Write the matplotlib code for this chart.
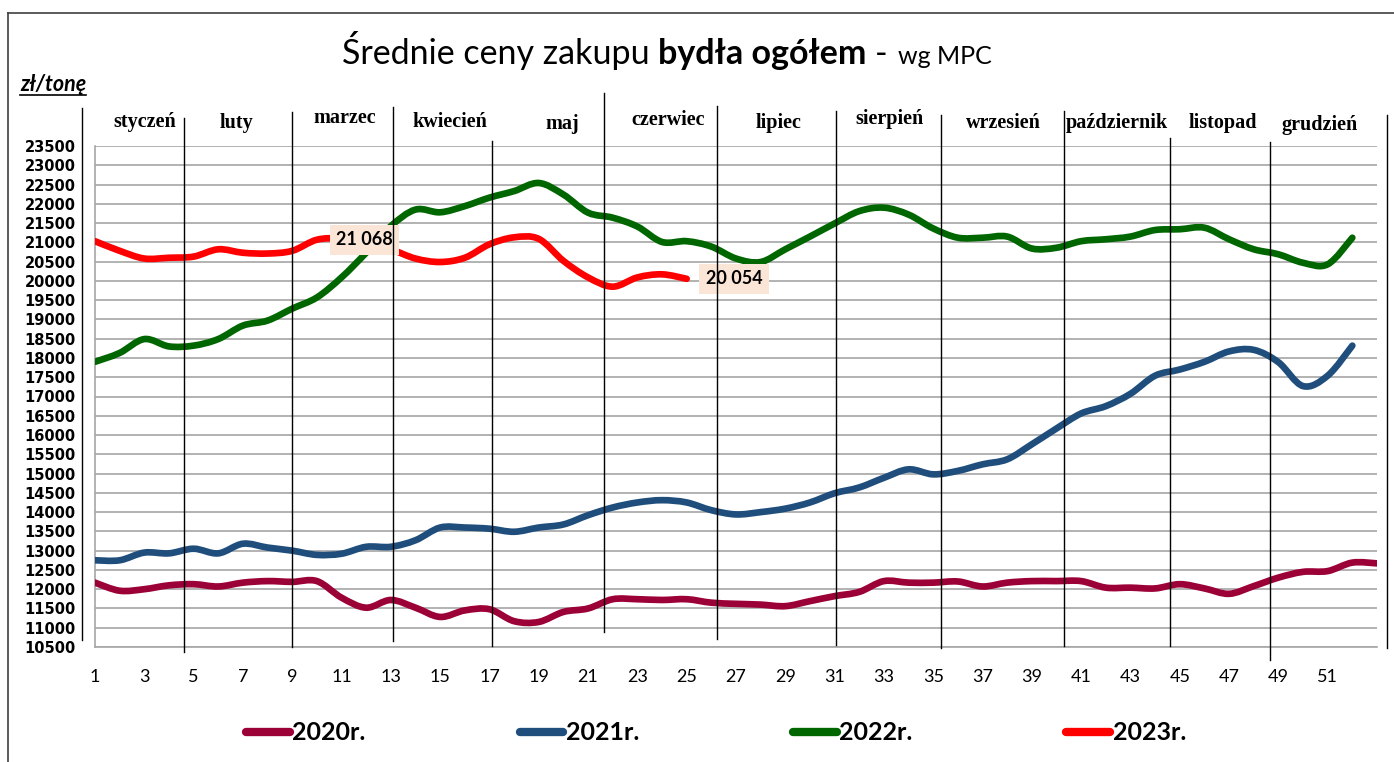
import matplotlib
matplotlib.use('Agg')
import matplotlib.pyplot as plt
from matplotlib.path import Path
from matplotlib.patches import PathPatch
from matplotlib.lines import Line2D
import numpy as np

# weekly prices, zl/tonne
prices_2020 = [12170, 11960, 12000, 12100, 12130, 12070, 12170, 12210, 12190, 12210,
               11780, 11520, 11720, 11520, 11280, 11450, 11480, 11170, 11150, 11410,
               11500, 11740, 11740, 11720, 11740, 11650, 11620, 11600, 11560, 11690,
               11820, 11930, 12210, 12170, 12170, 12200, 12070, 12170, 12210, 12210,
               12210, 12040, 12040, 12020, 12130, 12020, 11880, 12080, 12300, 12450,
               12470, 12690, 12670]
prices_2021 = [12750, 12750, 12950, 12930, 13050, 12930, 13180, 13080, 13000, 12890,
               12920, 13100, 13100, 13270, 13600, 13600, 13570, 13490, 13600, 13680,
               13920, 14120, 14250, 14310, 14250, 14050, 13940, 14000, 14090, 14250,
               14490, 14640, 14890, 15110, 14980, 15070, 15240, 15370, 15760, 16170,
               16560, 16750, 17070, 17540, 17700, 17900, 18170, 18210, 17890, 17270,
               17540, 18320]
prices_2022 = [17900, 18130, 18490, 18300, 18320, 18490, 18840, 18970, 19280, 19570,
               20090, 20730, 21420, 21850, 21780, 21940, 22160, 22330, 22540, 22240,
               21770, 21640, 21410, 21010, 21030, 20890, 20580, 20490, 20820, 21150,
               21490, 21810, 21900, 21720, 21360, 21120, 21120, 21150, 20840, 20860,
               21030, 21080, 21150, 21320, 21340, 21380, 21080, 20820, 20690, 20470,
               20430, 21120]
prices_2023 = [21030, 20780, 20580, 20600, 20630, 20820, 20730, 20710, 20780, 21068,
               21100, 21000, 20820, 20580, 20490, 20600, 20950, 21130, 21090, 20520,
               20090, 19850, 20090, 20170, 20054]

series = [prices_2020, prices_2021, prices_2022, prices_2023]
series_labels = ['2020r.', '2021r.', '2022r.', '2023r.']
colors = ['#9B0036', '#1F4E7D', '#006600', '#FF0000']

months = ['styczeń', 'luty', 'marzec', 'kwiecień', 'maj', 'czerwiec', 'lipiec',
          'sierpień', 'wrzesień', 'październik', 'listopad', 'grudzień']
x_ticks = list(range(1, 52, 2))
y_ticks = list(range(10500, 24000, 500))
labelled_2023_weeks = [10, 25]

W, H = 1394, 762


def fx(x):
    return x / W


def fy(y):
    return 1 - y / H


def smooth_path(xs, ys):
    # catmull-rom through the points, like Excel's smoothed line
    pts = np.column_stack([xs, ys]).astype(float)
    n = len(pts)
    verts = [pts[0]]
    codes = [Path.MOVETO]
    for i in range(n - 1):
        p0 = pts[max(i - 1, 0)]
        p1 = pts[i]
        p2 = pts[i + 1]
        p3 = pts[min(i + 2, n - 1)]
        verts += [p1 + (p2 - p0) / 6, p2 - (p3 - p1) / 6, p2]
        codes += [Path.CURVE4] * 3
    return Path(verts, codes)


fig = plt.figure(figsize=(W / 100, H / 100), dpi=100)
fig.patch.set_facecolor('white')

ax = fig.add_axes([fx(95), fy(647), (1377 - 95) / W, (647 - 146) / H])
ax.set_xlim(1, 53)
ax.set_ylim(10500, 23500)
ax.set_xticks(x_ticks)
ax.set_xticklabels([str(t) for t in x_ticks], fontfamily='Lato', fontsize=13)
ax.set_yticks(y_ticks)
ax.set_yticklabels([str(t) for t in y_ticks], fontfamily='DejaVu Sans',
                   fontweight='bold', fontsize=10.5)
ax.tick_params(axis='both', length=0)
ax.tick_params(axis='y', pad=14)
ax.tick_params(axis='x', pad=16)
ax.grid(axis='y', color='#A6A6A6', lw=1.2)
ax.set_axisbelow(True)
for s in ['top', 'right']:
    ax.spines[s].set_visible(False)
for s in ['left', 'bottom']:
    ax.spines[s].set_color('#A6A6A6')
    ax.spines[s].set_linewidth(1.2)

for i, (vals, col) in enumerate(zip(series, colors)):
    weeks = np.arange(1, len(vals) + 1)
    ax.add_patch(PathPatch(smooth_path(weeks, vals), facecolor='none', edgecolor=col,
                           lw=4.8, capstyle='round', joinstyle='round', zorder=3 + i))

for wk in labelled_2023_weeks:
    v = prices_2023[wk - 1]
    ax.annotate(f'{v:,}'.replace(',', ' '), xy=(wk, v), xytext=(19, 0),
                textcoords='offset pixels', ha='left', va='center',
                fontfamily='Lato', fontweight='bold', fontsize=13, zorder=10,
                bbox=dict(boxstyle='square,pad=0.35', facecolor='#FBE5D6', edgecolor='none'))

# month separators and names
sep_lines = [(82, 108, 640), (184, 118, 652), (292, 112, 647), (393, 107, 641),
             (492, 141, 646), (604, 93, 632), (717, 106, 639), (836, 111, 645),
             (941, 115, 648), (1064, 111, 646), (1170, 138, 646), (1270, 142, 660),
             (1387, 115, 648)]
for x, y0, y1 in sep_lines:
    fig.add_artist(Line2D([fx(x), fx(x)], [fy(y0), fy(y1)], color='black', lw=1.0, zorder=8))

month_pos = [(145, 122), (237, 123), (345, 118), (450, 122), (562, 124), (668, 120),
             (779, 123), (890, 119), (1003, 123), (1117, 123), (1223, 123), (1320, 125)]
for name, (x, y) in zip(months, month_pos):
    fig.text(fx(x), fy(y), name, ha='center', va='center', fontfamily='Liberation Serif',
             fontweight='bold', fontsize=14.5)

# outer frame
fig.add_artist(Line2D([fx(8), fx(W)], [fy(13), fy(13)], color='#404040', lw=1.2))
fig.add_artist(Line2D([fx(8), fx(8)], [fy(13), fy(H)], color='#404040', lw=1.2))

# title in pieces
fig.canvas.draw()
r = fig.canvas.get_renderer()
pieces = [('Średnie ceny zakupu', 'normal', 24.5), ('bydła ogółem', 'bold', 24.5),
          ('-', 'normal', 24.5), ('wg MPC', 'normal', 18)]
gaps = [8, 9, 10, 0]
texts = []
widths = []
for s, wgt, sz in pieces:
    t = fig.text(0, fy(64), s, fontfamily='Lato', fontweight=wgt, fontsize=sz,
                 va='baseline', ha='left')
    texts.append(t)
    widths.append(t.get_window_extent(r).width)
total = sum(widths) + sum(gaps)
x = 667 - total / 2
for t, w, g in zip(texts, widths, gaps):
    t.set_x(fx(x))
    x += w + g

unit = fig.text(fx(20), fy(91), 'zł/tonę', fontfamily='Lato', fontweight='bold',
                fontstyle='italic', fontsize=15.5, va='baseline', ha='left')
uw = unit.get_window_extent(r).width
fig.add_artist(Line2D([fx(20), fx(20 + uw)], [fy(95), fy(95)], color='black', lw=1.2))

handles = [Line2D([], [], color=c, lw=6, solid_capstyle='round') for c in colors]
fig.legend(handles, series_labels, loc='center', bbox_to_anchor=(fx(716), fy(733)),
           ncol=4, frameon=False, handlelength=1.75, handletextpad=0.1,
           columnspacing=6.15, prop={'family': 'Lato', 'weight': 'bold', 'size': 18})

fig.savefig('out.png', dpi=100)
